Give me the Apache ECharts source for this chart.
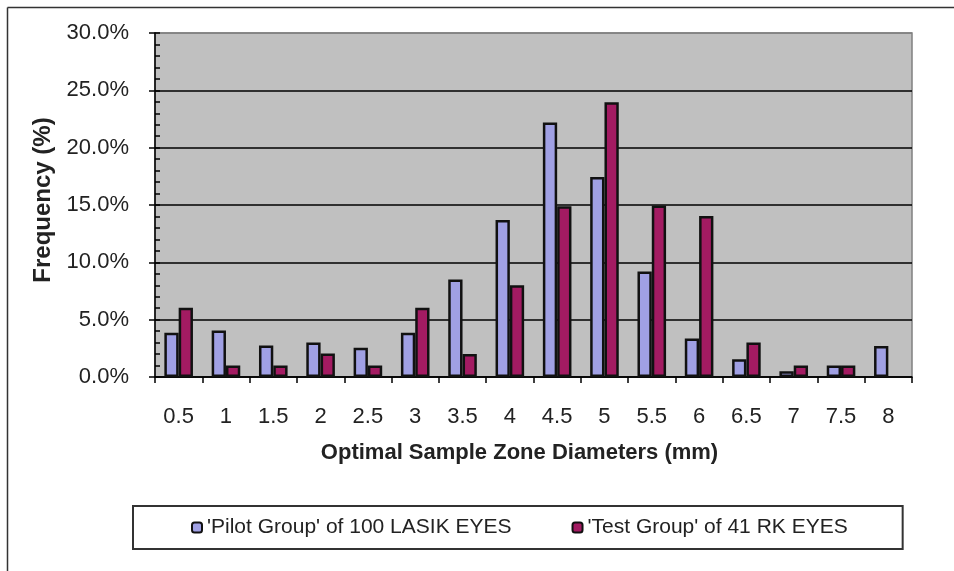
<!DOCTYPE html>
<html>
<head>
<meta charset="utf-8">
<script src="https://cdn.jsdelivr.net/npm/echarts@6/dist/echarts.min.js"></script>
<style>
html,body{margin:0;padding:0;background:#fff;}
#chart{width:954px;height:571px;}
</style>
</head>
<body>
<div id="chart"></div>
<script>
var categories = ['0.5','1','1.5','2','2.5','3','3.5','4','4.5','5','5.5','6','6.5','7','7.5','8'];
var pilotValues = [3.85, 4.05, 2.75, 3.0, 2.55, 3.85, 8.5, 13.7, 22.2, 17.45, 9.2, 3.35, 1.55, 0.5, 1.0, 2.7];
var testValues  = [6.05, 1.0, 1.0, 2.05, 1.0, 6.05, 2.0, 8.0, 14.9, 23.95, 14.95, 14.05, 3.0, 1.0, 1.0, 0];
var seriesNames = ["'Pilot Group' of 100 LASIK EYES", "'Test Group' of 41 RK EYES"];
var yMin = 0, yMax = 30, yStep = 5, yMinorStep = 1;
var xTitle = 'Optimal Sample Zone Diameters (mm)';
var yTitle = 'Frequency (%)';

function toBarData(arr){
  return arr.map(function(v){ return v === 0 ? {value:0, itemStyle:{borderWidth:0}} : v; });
}

var FONT = '"Liberation Sans", Arial, sans-serif';
var chart = echarts.init(document.getElementById('chart'), null, {renderer:'canvas'});
chart.setOption({
  backgroundColor: '#ffffff',
  animation: false,
  textStyle: {fontFamily: FONT},
  graphic: [
    {type:'line', shape:{x1:7.5, y1:7.5, x2:954, y2:7.5}, style:{stroke:'#333', lineWidth:1.5}},
    {type:'line', shape:{x1:7.5, y1:7.5, x2:7.5, y2:571}, style:{stroke:'#333', lineWidth:1.5}}
  ],
  grid: {left:155, right:42, top:33, bottom:194, show:true, backgroundColor:'#c0c0c0', borderColor:'#808080', borderWidth:1.5},
  legend: {
    left:133, top:506,
    padding:[11, 55, 11, 58],
    itemGap: 60,
    itemWidth: 10, itemHeight: 10,
    borderColor:'#333', borderWidth:2,
    backgroundColor:'#fff',
    textStyle:{fontSize:21, color:'#222', fontFamily:FONT},
    data: seriesNames
  },
  xAxis: {
    type:'category', data: categories,
    boundaryGap: true,
    axisLine:{lineStyle:{color:'#000', width:1.5}},
    axisTick:{show:true, length:6, lineStyle:{color:'#000', width:1.5}},
    axisLabel:{fontSize:22, color:'#222', margin:29, fontFamily:FONT},
    name: xTitle, nameLocation:'middle', nameGap:65,
    nameTextStyle:{fontSize:22, fontWeight:'bold', color:'#222', fontFamily:FONT, padding:[0, 28, 0, 0]}
  },
  yAxis: [{
    type:'value', min:yMin, max:yMax, interval:yStep,
    axisLine:{show:true, lineStyle:{color:'#000', width:1.5}},
    axisTick:{show:true, length:6, lineStyle:{color:'#000', width:1.5}},
    axisLabel:{fontSize:22, color:'#222', margin:26, fontFamily:FONT,
      formatter:function(v){return v.toFixed(1)+'%';}},
    splitLine:{show:true, lineStyle:{color:['#000','#000','#000','#000','#000','#000','#808080'], width:1.5}},
    name: yTitle, nameLocation:'middle', nameGap:100, nameRotate:90,
    nameTextStyle:{fontSize:24, fontWeight:'bold', color:'#222', fontFamily:FONT, padding:[0, 0, 0, 10]}
  },{
    type:'value', min:yMin, max:yMax, interval:yMinorStep, position:'left',
    axisLine:{show:false},
    axisTick:{show:true, inside:true, length:5, lineStyle:{color:'#000', width:1.5}},
    axisLabel:{show:false},
    splitLine:{show:false}
  }],
  series: [{
    name: seriesNames[0], type:'bar', data: toBarData(pilotValues),
    barWidth: 14.3, barGap:'0%',
    itemStyle:{color:'#a0a0e4', borderColor:'#111', borderWidth:2.5}
  },{
    name: seriesNames[1], type:'bar', data: toBarData(testValues),
    barWidth: 14.3, barGap:'0%',
    itemStyle:{color:'#a31b62', borderColor:'#111', borderWidth:2.5}
  }]
});
</script>
</body>
</html>
